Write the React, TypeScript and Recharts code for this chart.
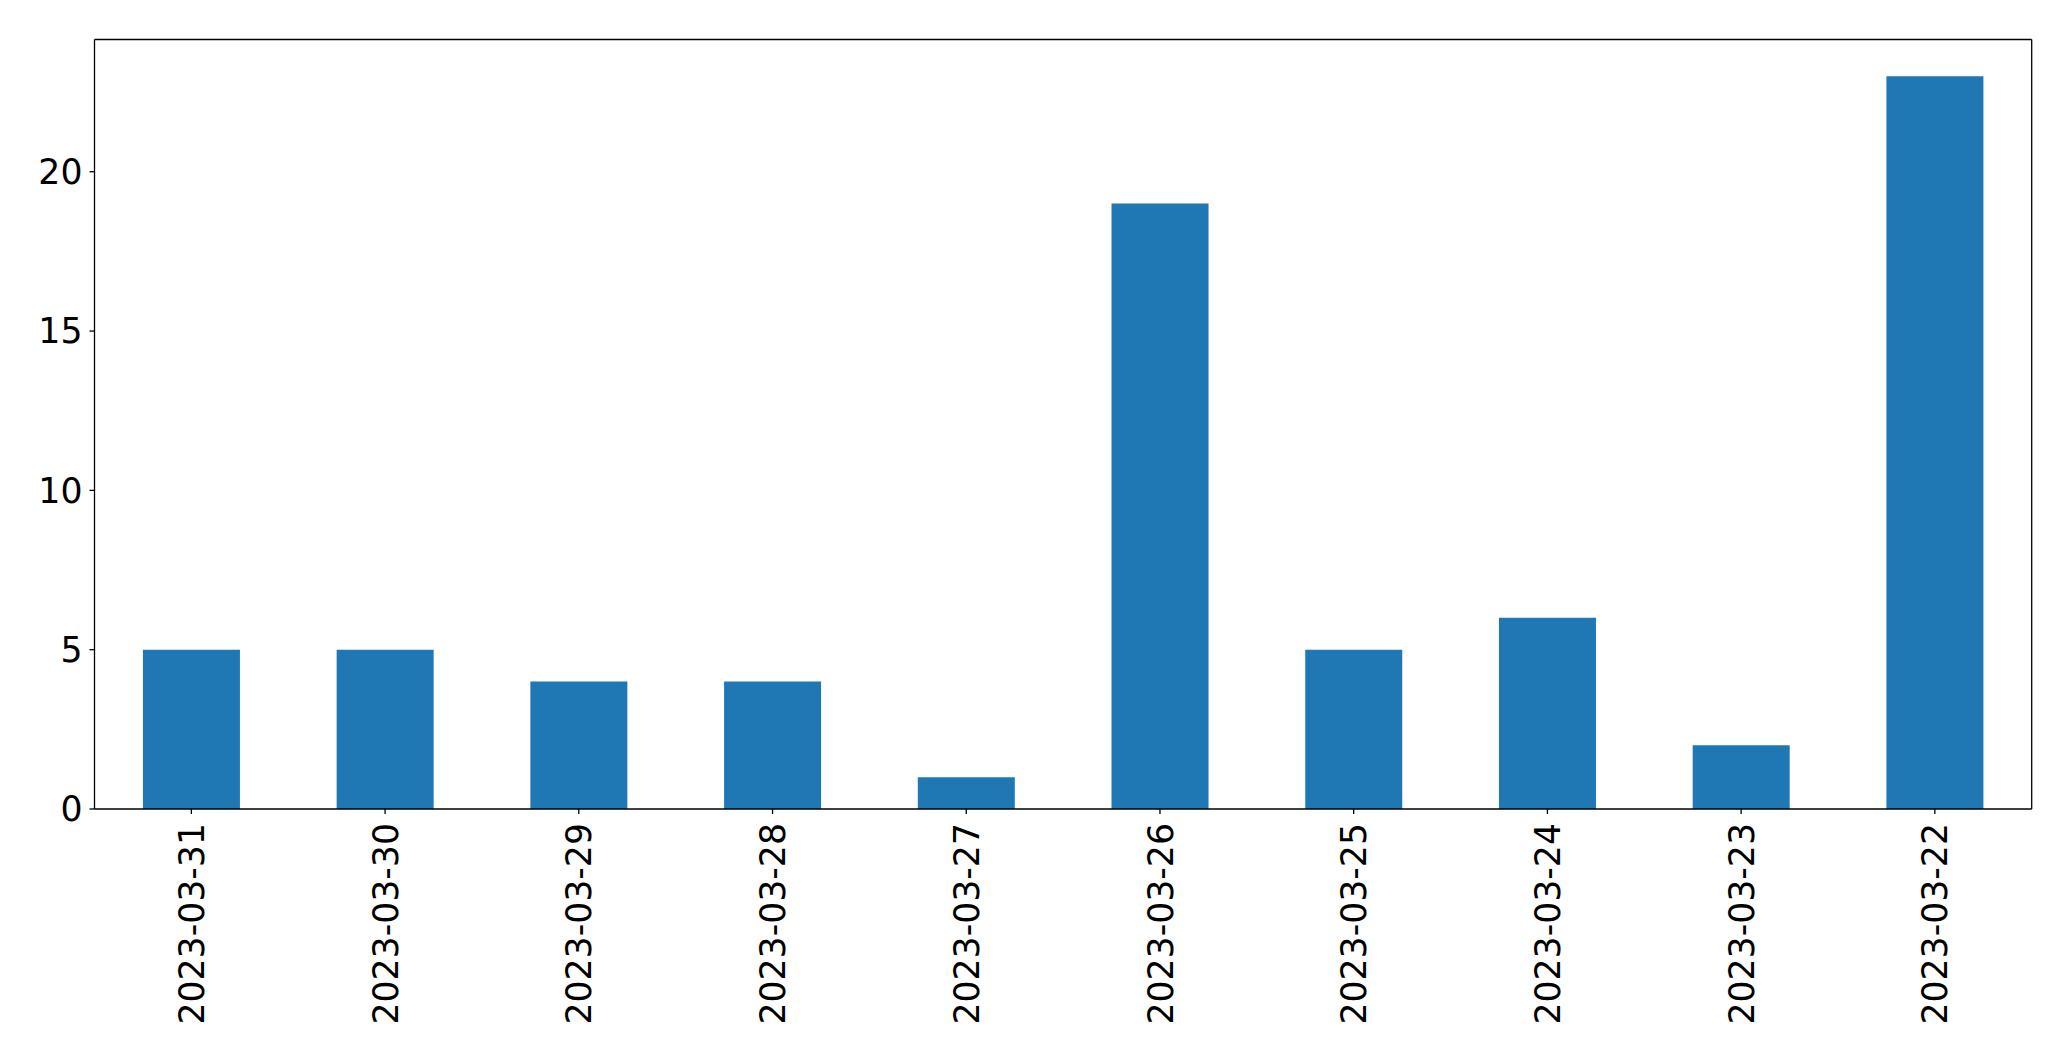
import { ComposedChart, Bar, Line, XAxis, YAxis } from "recharts";

const dates = [
  "2023-03-31",
  "2023-03-30",
  "2023-03-29",
  "2023-03-28",
  "2023-03-27",
  "2023-03-26",
  "2023-03-25",
  "2023-03-24",
  "2023-03-23",
  "2023-03-22",
];
const counts = [5, 5, 4, 4, 1, 19, 5, 6, 2, 23];
const yTicks = [0, 5, 10, 15, 20];

const data = dates.map((d, i) => ({ date: d, count: counts[i] }));

const FONT = "'DejaVu Sans', sans-serif";
const FS = 34.7;

function DateTick(props: any) {
  const { x, y, payload } = props;
  return (
    <g transform={`translate(${x + 12.6},${y + 7})`}>
      <text
        transform="rotate(-90)"
        textAnchor="end"
        fontSize={FS}
        fontFamily={FONT}
        fill="#000"
      >
        {payload.value}
      </text>
    </g>
  );
}

export default function App() {
  return (
    <div style={{ position: "absolute", left: 0, top: 0, background: "#fff" }}>
      <ComposedChart
        width={2071}
        height={1061}
        data={data}
        margin={{ top: 38.5, right: 38.3, left: 0, bottom: 0 }}
        barCategoryGap="25%"
      >
        <XAxis
          dataKey="date"
          height={252}
          tick={<DateTick />}
          tickSize={5}
          interval={0}
          stroke="#000"
          axisLine={{ stroke: "#000", strokeWidth: 1.3 }}
          tickLine={{ stroke: "#000", strokeWidth: 1.3 }}
        />
        <XAxis
          xAxisId="top"
          dataKey="date"
          orientation="top"
          height={1}
          tick={false}
          tickLine={false}
          stroke="#000"
          axisLine={{ stroke: "#000", strokeWidth: 1.3 }}
        />
        <YAxis
          width={94.5}
          domain={[0, 24.15]}
          ticks={yTicks}
          tickSize={5}
          tickMargin={7}
          allowDataOverflow
          axisLine={{ stroke: "#000", strokeWidth: 1.3 }}
          tickLine={{ stroke: "#000", strokeWidth: 1.3 }}
          tick={{ fontSize: FS, fontFamily: FONT, fill: "#000" }}
        />
        <YAxis
          yAxisId="right"
          orientation="right"
          width={1}
          domain={[0, 24.15]}
          allowDataOverflow
          tick={false}
          tickLine={false}
          stroke="#000"
          axisLine={{ stroke: "#000", strokeWidth: 1.3 }}
        />
        <Bar dataKey="count" fill="#1f77b4" isAnimationActive={false} />
        <Line
          xAxisId="top"
          yAxisId="right"
          dataKey="count"
          stroke="none"
          dot={false}
          activeDot={false}
          legendType="none"
          isAnimationActive={false}
        />
      </ComposedChart>
    </div>
  );
}
